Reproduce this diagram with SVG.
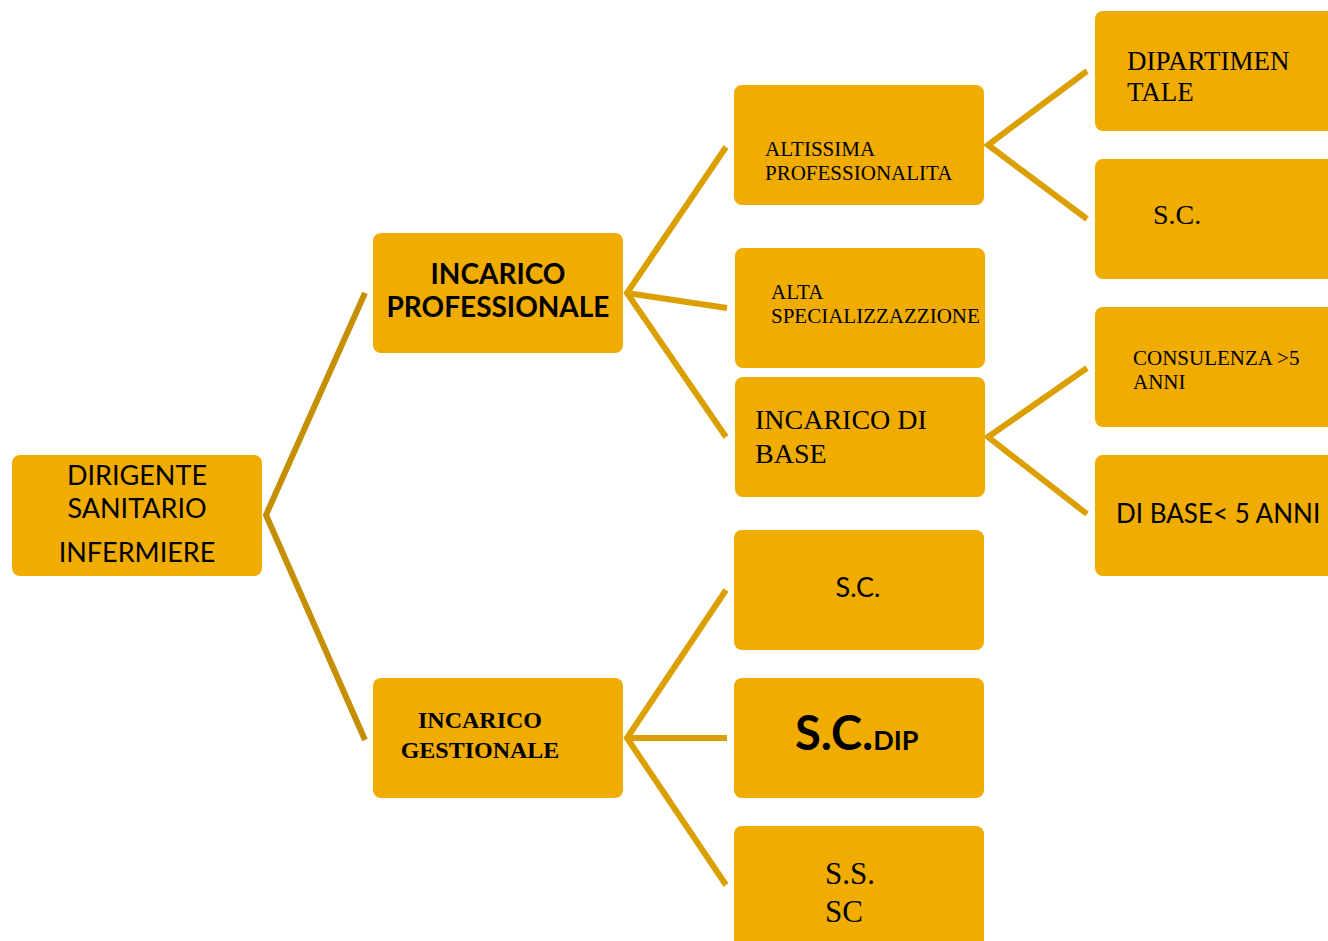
<svg xmlns="http://www.w3.org/2000/svg" width="1328" height="941" viewBox="0 0 1328 941">
<style>
.box{fill:#F0AC00;}
.c1{fill:none;stroke:#C48F00;stroke-width:6;stroke-linejoin:miter;stroke-miterlimit:10;}
.c2{fill:none;stroke:#DBA000;stroke-width:6;stroke-linejoin:miter;stroke-miterlimit:10;}
.sans{font-family:Lato,"Open Sans","Liberation Sans",sans-serif;fill:#000;}
.serif{font-family:"Liberation Serif","Times New Roman",serif;fill:#000;}
</style>
<rect width="1328" height="941" fill="#fff"/>
<g id="connectors">
<polyline class="c1" points="365,293 266,515 365,740"/>
<polyline class="c2" points="726,147 627,293 726,437"/>
<line class="c2" x1="627" y1="293" x2="727" y2="308"/>
<polyline class="c2" points="726,590 627,738 726,885"/>
<line class="c2" x1="627" y1="738" x2="727" y2="738"/>
<polyline class="c2" points="1087,71 988,145 1087,219"/>
<polyline class="c2" points="1087,368 988,437 1087,514"/>
</g>
<g id="n-root"><rect class="box" x="12" y="455" width="250" height="121" rx="8"/>
<text class="sans" font-size="27" text-anchor="middle"><tspan x="137" y="485">DIRIGENTE</tspan><tspan x="137" y="518">SANITARIO</tspan><tspan x="137" y="562">INFERMIERE</tspan></text></g>
<g id="n-prof"><rect class="box" x="373" y="233" width="250" height="120" rx="8"/>
<text class="sans" font-size="28" font-weight="bold" text-anchor="middle"><tspan x="498" y="284">INCARICO</tspan><tspan x="498" y="317">PROFESSIONALE</tspan></text></g>
<g id="n-gest"><rect class="box" x="373" y="678" width="250" height="120" rx="8"/>
<text class="serif" font-size="24" font-weight="bold" text-anchor="middle"><tspan x="480" y="728">INCARICO</tspan><tspan x="480" y="758">GESTIONALE</tspan></text></g>
<g id="n-altissima"><rect class="box" x="734" y="85" width="250" height="120" rx="8"/>
<text class="serif" font-size="21"><tspan x="765" y="156">ALTISSIMA</tspan><tspan x="765" y="180">PROFESSIONALITA</tspan></text></g>
<g id="n-alta"><rect class="box" x="735" y="248" width="250" height="120" rx="8"/>
<text class="serif" font-size="21"><tspan x="771" y="299">ALTA</tspan><tspan x="771" y="323">SPECIALIZZAZZIONE</tspan></text></g>
<g id="n-base"><rect class="box" x="735" y="377" width="250" height="120" rx="8"/>
<text class="serif" font-size="28"><tspan x="755" y="429">INCARICO DI</tspan><tspan x="755" y="463">BASE</tspan></text></g>
<g id="n-sc-g"><rect class="box" x="734" y="530" width="250" height="120" rx="8"/>
<text class="sans" font-size="27" text-anchor="middle" x="858" y="597">S.C.</text></g>
<g id="n-scdip"><rect class="box" x="734" y="678" width="250" height="120" rx="8"/>
<text class="sans" font-weight="bold" x="795" y="750"><tspan font-size="47">S.C.</tspan><tspan font-size="27">DIP</tspan></text></g>
<g id="n-ss"><rect class="box" x="734" y="826" width="250" height="130" rx="8"/>
<text class="serif" font-size="31"><tspan x="825" y="884">S.S.</tspan><tspan x="825" y="922">SC</tspan></text></g>
<g id="n-dip"><rect class="box" x="1095" y="11" width="250" height="120" rx="8"/>
<text class="serif" font-size="27"><tspan x="1127" y="70">DIPARTIMEN</tspan><tspan x="1127" y="101">TALE</tspan></text></g>
<g id="n-sc-p"><rect class="box" x="1095" y="159" width="250" height="120" rx="8"/>
<text class="serif" font-size="28" x="1153" y="224">S.C.</text></g>
<g id="n-cons"><rect class="box" x="1095" y="307" width="250" height="120" rx="8"/>
<text class="serif" font-size="21"><tspan x="1133" y="365">CONSULENZA &gt;5</tspan><tspan x="1133" y="389">ANNI</tspan></text></g>
<g id="n-dibase"><rect class="box" x="1095" y="455" width="250" height="121" rx="8"/>
<text class="sans" font-size="26" x="1116" y="523">DI BASE&lt; 5 ANNI</text></g>
</svg>
